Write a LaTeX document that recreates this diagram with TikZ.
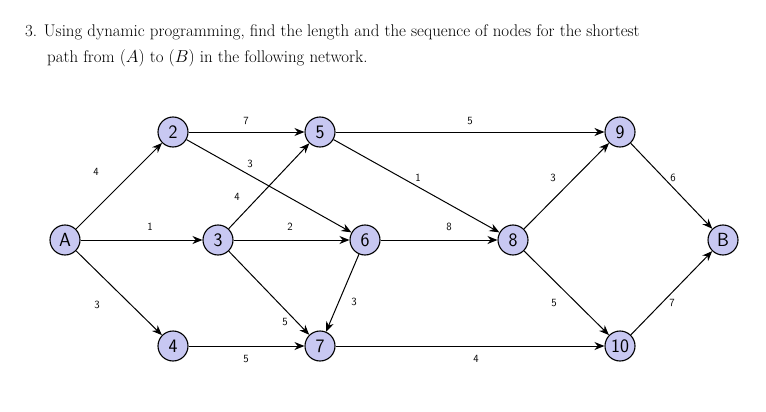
\documentclass[tikz,border=0pt]{standalone}
\usetikzlibrary{arrows.meta}
\begin{document}
\begin{tikzpicture}[x=1pt,y=-1pt,
  vert/.style={circle,draw,line width=1.1pt,fill={rgb,255:red,200;green,200;blue,242},minimum size=30pt,inner sep=0pt,font=\sffamily\fontsize{19}{19}\selectfont},
  conn/.style={line width=1pt,-{Stealth[length=10pt,width=8pt]}},
  wt/.style={font=\sffamily\fontsize{11}{11}\selectfont,inner sep=1pt}]
\useasboundingbox (0,0) rectangle (766,412);
\node[anchor=base west,font=\fontsize{16.9}{18}\selectfont,inner sep=0] (t1) at (25,37) {3. Using dynamic programming, find the length and the sequence of nodes for the shortest};
\node[anchor=base west,font=\fontsize{16.9}{18}\selectfont,inner sep=0] (t2) at (47,63) {path from $(A)$ to $(B)$ in the following network.};
\node[vert] (A) at (65,240) {A};
\node[vert] (n2) at (173,132) {2};
\node[vert] (n3) at (218,240) {3};
\node[vert] (n4) at (173,346) {4};
\node[vert] (n5) at (320,132) {5};
\node[vert] (n6) at (365,240) {6};
\node[vert] (n7) at (320,346) {7};
\node[vert] (n8) at (513,240) {8};
\node[vert] (n9) at (620,132) {9};
\node[vert] (n10) at (620,346) {10};
\node[vert] (B) at (723,240) {B};
\draw[conn] (A) -- (n2); \draw[conn] (A) -- (n3); \draw[conn] (A) -- (n4);
\draw[conn] (n2) -- (n5); \draw[conn] (n2) -- (n6);
\draw[conn] (n3) -- (n5); \draw[conn] (n3) -- (n6); \draw[conn] (n3) -- (n7);
\draw[conn] (n4) -- (n7);
\draw[conn] (n5) -- (n9); \draw[conn] (n5) -- (n8);
\draw[conn] (n6) -- (n8); \draw[conn] (n6) -- (n7);
\draw[conn] (n7) -- (n10);
\draw[conn] (n8) -- (n9); \draw[conn] (n8) -- (n10);
\draw[conn] (n9) -- (B); \draw[conn] (n10) -- (B);
\node[wt] (w1) at (96,172) {4};
\node[wt] (w2) at (150,227) {1};
\node[wt] (w3) at (97,305) {3};
\node[wt] (w4) at (246,121) {7};
\node[wt] (w5) at (250,164) {3};
\node[wt] (w6) at (237,197) {4};
\node[wt] (w7) at (290,227) {2};
\node[wt] (w8) at (285,322) {5};
\node[wt] (w9) at (246,359) {5};
\node[wt] (w10) at (354,302) {3};
\node[wt] (w11) at (470,121) {5};
\node[wt] (w12) at (418,178) {1};
\node[wt] (w13) at (449,227) {8};
\node[wt] (w14) at (476,359) {4};
\node[wt] (w15) at (553,178) {3};
\node[wt] (w16) at (554,303) {5};
\node[wt] (w17) at (673,178) {6};
\node[wt] (w18) at (672,303) {7};
\end{tikzpicture}
\end{document}
